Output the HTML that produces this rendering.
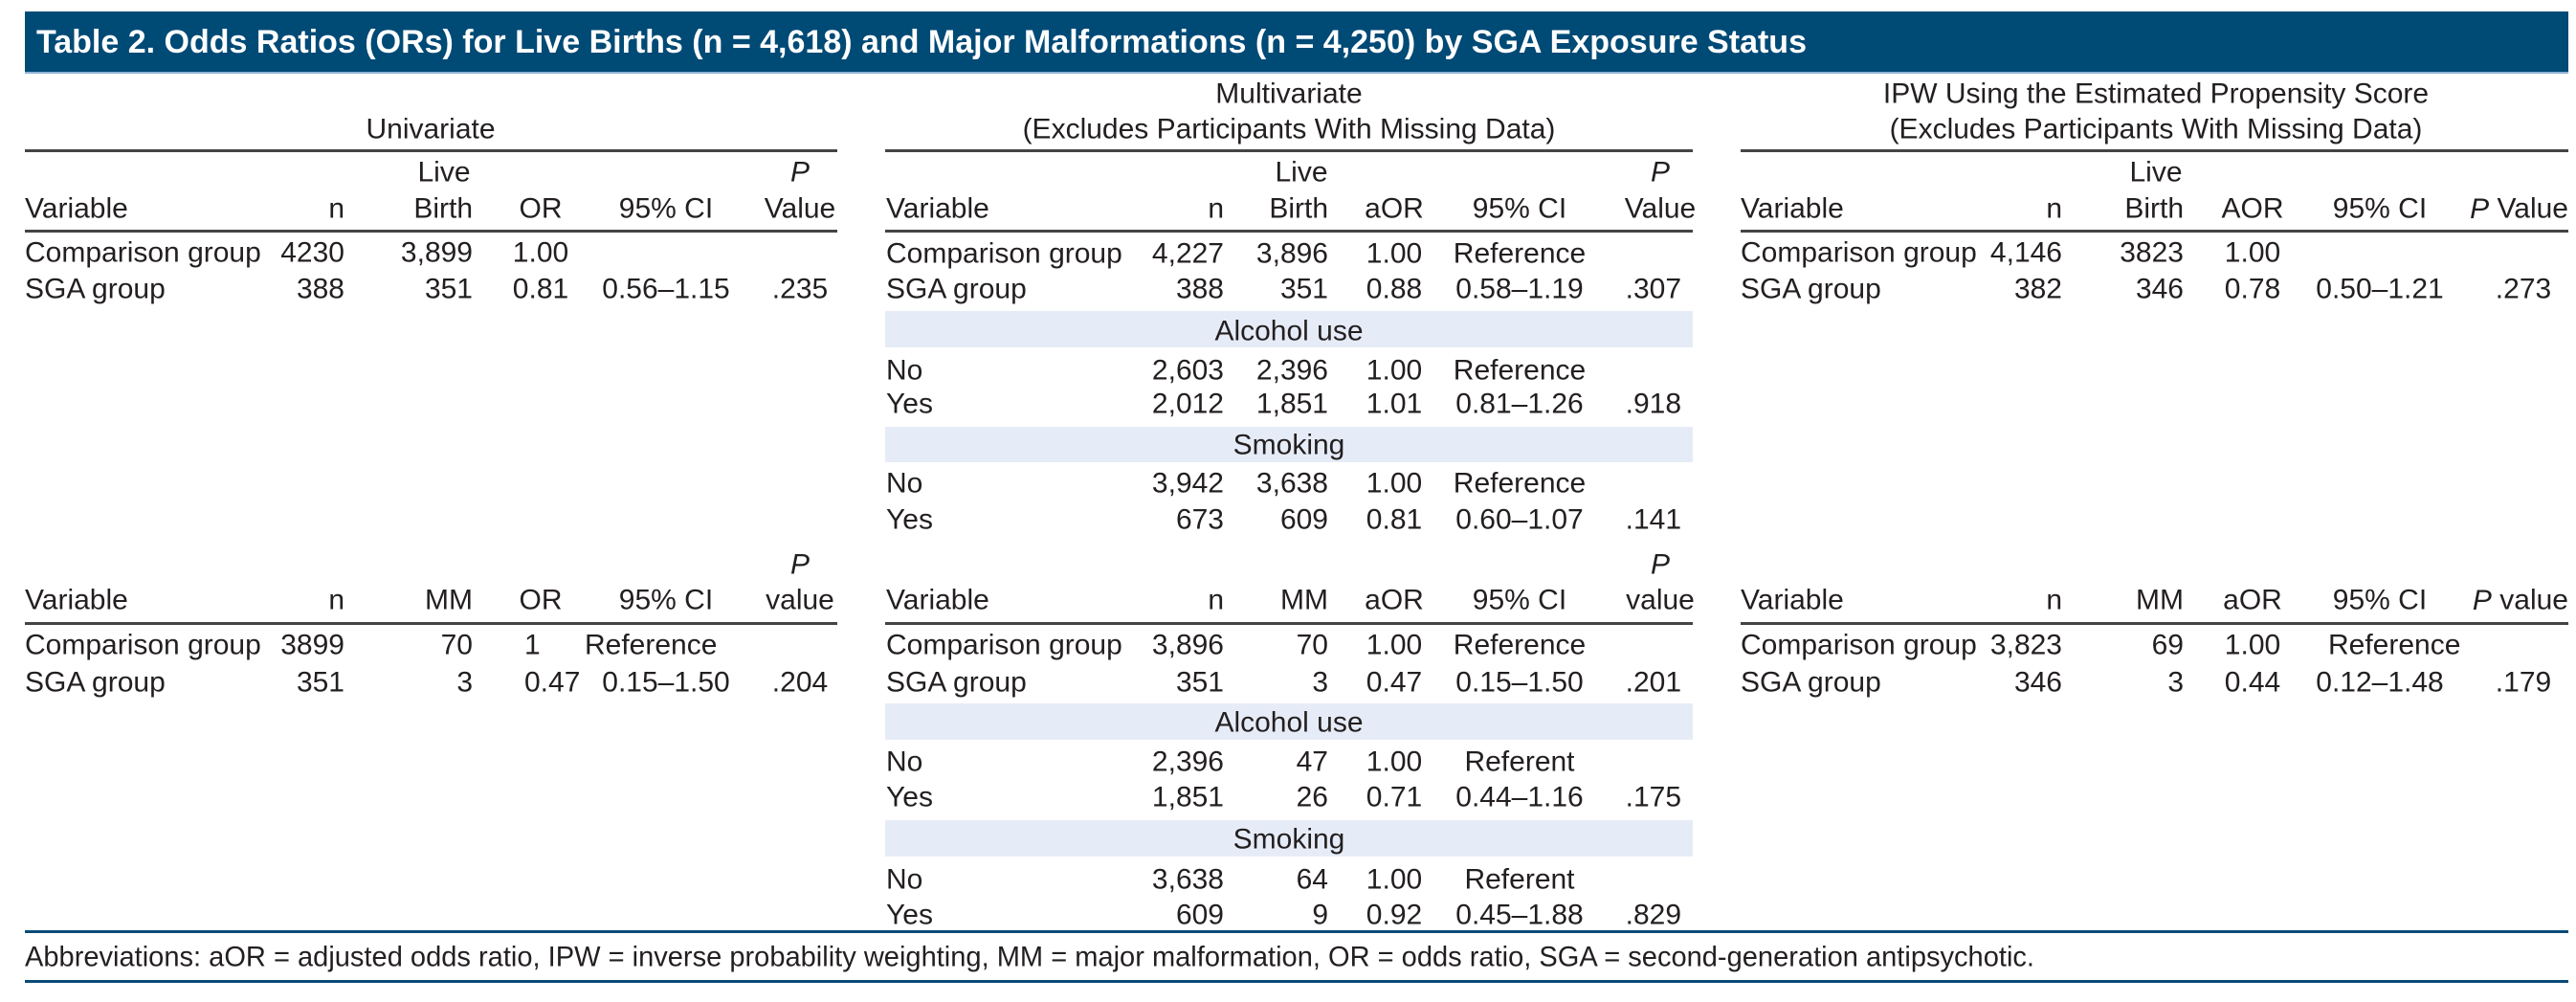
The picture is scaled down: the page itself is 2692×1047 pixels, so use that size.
<!DOCTYPE html>
<html><head><meta charset="utf-8"><style>
html,body{margin:0;padding:0;background:#fff;}
svg{display:block;}
text{font-family:"Liberation Sans",sans-serif;font-size:30px;fill:#231f20;dominant-baseline:central;}
.e{text-anchor:end}.m{text-anchor:middle}
</style></head><body>
<svg width="2692" height="1047" viewBox="0 0 2692 1047" xmlns="http://www.w3.org/2000/svg">
<rect x="26" y="12" width="2658" height="63" fill="#004a76"/>
<rect x="26" y="75" width="2658" height="2" fill="#8fb3d6"/>
<text x="38" y="44" textLength="1850" lengthAdjust="spacingAndGlyphs" style="font-weight:bold;font-size:34px;fill:#fff">Table 2. Odds Ratios (ORs) for Live Births (n = 4,618) and Major Malformations (n = 4,250) by SGA Exposure Status</text>

<text x="450" y="135" class="m">Univariate</text>
<text x="1347" y="98" class="m">Multivariate</text>
<text x="1347" y="135" class="m">(Excludes Participants With Missing Data)</text>
<text x="2253" y="98" class="m">IPW Using the Estimated Propensity Score</text>
<text x="2253" y="135" class="m">(Excludes Participants With Missing Data)</text>
<g fill="#444">
<rect x="26" y="156" width="849" height="3"/><rect x="925" y="156" width="844" height="3"/><rect x="1819" y="156" width="865" height="3"/>
<rect x="26" y="240" width="849" height="3"/><rect x="925" y="240" width="844" height="3"/><rect x="1819" y="240" width="865" height="3"/>
<rect x="26" y="650" width="849" height="3"/><rect x="925" y="650" width="844" height="3"/><rect x="1819" y="650" width="865" height="3"/>
</g>
<g fill="#e6ecf7">
<rect x="925" y="325" width="844" height="38"/><rect x="925" y="446" width="844" height="37"/>
<rect x="925" y="735" width="844" height="38"/><rect x="925" y="857" width="844" height="38"/>
</g>

<text x="464" y="180" class="m">Live</text>
<text x="836" y="180" class="m" font-style="italic">P</text>
<text x="26" y="218">Variable</text><text x="360" y="218" class="e">n</text><text x="494" y="218" class="e">Birth</text>
<text x="565" y="218" class="m">OR</text><text x="696" y="218" class="m">95% CI</text><text x="836" y="218" class="m">Value</text>
<text x="26" y="264">Comparison group</text><text x="360" y="264" class="e">4230</text><text x="494" y="264" class="e">3,899</text><text x="565" y="264" class="m">1.00</text>
<text x="26" y="302">SGA group</text><text x="360" y="302" class="e">388</text><text x="494" y="302" class="e">351</text><text x="565" y="302" class="m">0.81</text><text x="696" y="302" class="m">0.56–1.15</text><text x="836" y="302" class="m">.235</text>

<text x="1360" y="180" class="m">Live</text>
<text x="1735" y="180" class="m" font-style="italic">P</text>
<text x="926" y="218">Variable</text><text x="1279" y="218" class="e">n</text><text x="1388" y="218" class="e">Birth</text>
<text x="1457" y="218" class="m">aOR</text><text x="1588" y="218" class="m">95% CI</text><text x="1735" y="218" class="m">Value</text>
<text x="926" y="265">Comparison group</text><text x="1279" y="265" class="e">4,227</text><text x="1388" y="265" class="e">3,896</text><text x="1457" y="265" class="m">1.00</text><text x="1588" y="265" class="m">Reference</text>
<text x="926" y="302">SGA group</text><text x="1279" y="302" class="e">388</text><text x="1388" y="302" class="e">351</text><text x="1457" y="302" class="m">0.88</text><text x="1588" y="302" class="m">0.58–1.19</text><text x="1757" y="302" class="e">.307</text>
<text x="1347" y="346" class="m">Alcohol use</text>
<text x="926" y="387">No</text><text x="1279" y="387" class="e">2,603</text><text x="1388" y="387" class="e">2,396</text><text x="1457" y="387" class="m">1.00</text><text x="1588" y="387" class="m">Reference</text>
<text x="926" y="422">Yes</text><text x="1279" y="422" class="e">2,012</text><text x="1388" y="422" class="e">1,851</text><text x="1457" y="422" class="m">1.01</text><text x="1588" y="422" class="m">0.81–1.26</text><text x="1757" y="422" class="e">.918</text>
<text x="1347" y="465" class="m">Smoking</text>
<text x="926" y="505">No</text><text x="1279" y="505" class="e">3,942</text><text x="1388" y="505" class="e">3,638</text><text x="1457" y="505" class="m">1.00</text><text x="1588" y="505" class="m">Reference</text>
<text x="926" y="543">Yes</text><text x="1279" y="543" class="e">673</text><text x="1388" y="543" class="e">609</text><text x="1457" y="543" class="m">0.81</text><text x="1588" y="543" class="m">0.60–1.07</text><text x="1757" y="543" class="e">.141</text>

<text x="2253" y="180" class="m">Live</text>
<text x="1819" y="218">Variable</text><text x="2155" y="218" class="e">n</text><text x="2282" y="218" class="e">Birth</text>
<text x="2354" y="218" class="m">AOR</text><text x="2487" y="218" class="m">95% CI</text><text x="2684" y="218" class="e"><tspan font-style="italic">P</tspan> Value</text>
<text x="1819" y="264">Comparison group</text><text x="2155" y="264" class="e">4,146</text><text x="2282" y="264" class="e">3823</text><text x="2354" y="264" class="m">1.00</text>
<text x="1819" y="302">SGA group</text><text x="2155" y="302" class="e">382</text><text x="2282" y="302" class="e">346</text><text x="2354" y="302" class="m">0.78</text><text x="2487" y="302" class="m">0.50–1.21</text><text x="2637" y="302" class="m">.273</text>

<text x="836" y="590" class="m" font-style="italic">P</text>
<text x="26" y="627">Variable</text><text x="360" y="627" class="e">n</text><text x="494" y="627" class="e">MM</text>
<text x="565" y="627" class="m">OR</text><text x="696" y="627" class="m">95% CI</text><text x="836" y="627" class="m">value</text>
<text x="26" y="674">Comparison group</text><text x="360" y="674" class="e">3899</text><text x="494" y="674" class="e">70</text><text x="548" y="674">1</text><text x="611" y="674">Reference</text>
<text x="26" y="713">SGA group</text><text x="360" y="713" class="e">351</text><text x="494" y="713" class="e">3</text><text x="548" y="713">0.47</text><text x="696" y="713" class="m">0.15–1.50</text><text x="836" y="713" class="m">.204</text>

<text x="1735" y="590" class="m" font-style="italic">P</text>
<text x="926" y="627">Variable</text><text x="1279" y="627" class="e">n</text><text x="1388" y="627" class="e">MM</text>
<text x="1457" y="627" class="m">aOR</text><text x="1588" y="627" class="m">95% CI</text><text x="1735" y="627" class="m">value</text>
<text x="926" y="674">Comparison group</text><text x="1279" y="674" class="e">3,896</text><text x="1388" y="674" class="e">70</text><text x="1457" y="674" class="m">1.00</text><text x="1588" y="674" class="m">Reference</text>
<text x="926" y="713">SGA group</text><text x="1279" y="713" class="e">351</text><text x="1388" y="713" class="e">3</text><text x="1457" y="713" class="m">0.47</text><text x="1588" y="713" class="m">0.15–1.50</text><text x="1757" y="713" class="e">.201</text>
<text x="1347" y="755" class="m">Alcohol use</text>
<text x="926" y="796">No</text><text x="1279" y="796" class="e">2,396</text><text x="1388" y="796" class="e">47</text><text x="1457" y="796" class="m">1.00</text><text x="1588" y="796" class="m">Referent</text>
<text x="926" y="833">Yes</text><text x="1279" y="833" class="e">1,851</text><text x="1388" y="833" class="e">26</text><text x="1457" y="833" class="m">0.71</text><text x="1588" y="833" class="m">0.44–1.16</text><text x="1757" y="833" class="e">.175</text>
<text x="1347" y="877" class="m">Smoking</text>
<text x="926" y="919">No</text><text x="1279" y="919" class="e">3,638</text><text x="1388" y="919" class="e">64</text><text x="1457" y="919" class="m">1.00</text><text x="1588" y="919" class="m">Referent</text>
<text x="926" y="956">Yes</text><text x="1279" y="956" class="e">609</text><text x="1388" y="956" class="e">9</text><text x="1457" y="956" class="m">0.92</text><text x="1588" y="956" class="m">0.45–1.88</text><text x="1757" y="956" class="e">.829</text>

<text x="1819" y="627">Variable</text><text x="2155" y="627" class="e">n</text><text x="2282" y="627" class="e">MM</text>
<text x="2354" y="627" class="m">aOR</text><text x="2487" y="627" class="m">95% CI</text><text x="2684" y="627" class="e"><tspan font-style="italic">P</tspan> value</text>
<text x="1819" y="674">Comparison group</text><text x="2155" y="674" class="e">3,823</text><text x="2282" y="674" class="e">69</text><text x="2354" y="674" class="m">1.00</text><text x="2433" y="674">Reference</text>
<text x="1819" y="713">SGA group</text><text x="2155" y="713" class="e">346</text><text x="2282" y="713" class="e">3</text><text x="2354" y="713" class="m">0.44</text><text x="2487" y="713" class="m">0.12–1.48</text><text x="2637" y="713" class="m">.179</text>

<rect x="26" y="972" width="2658" height="3" fill="#0a4a78"/>
<text x="26" y="1000" textLength="2100" lengthAdjust="spacingAndGlyphs">Abbreviations: aOR = adjusted odds ratio, IPW = inverse probability weighting, MM = major malformation, OR = odds ratio, SGA = second-generation antipsychotic.</text>
<rect x="26" y="1024" width="2658" height="3" fill="#0a4a78"/>
</svg>
</body></html>
